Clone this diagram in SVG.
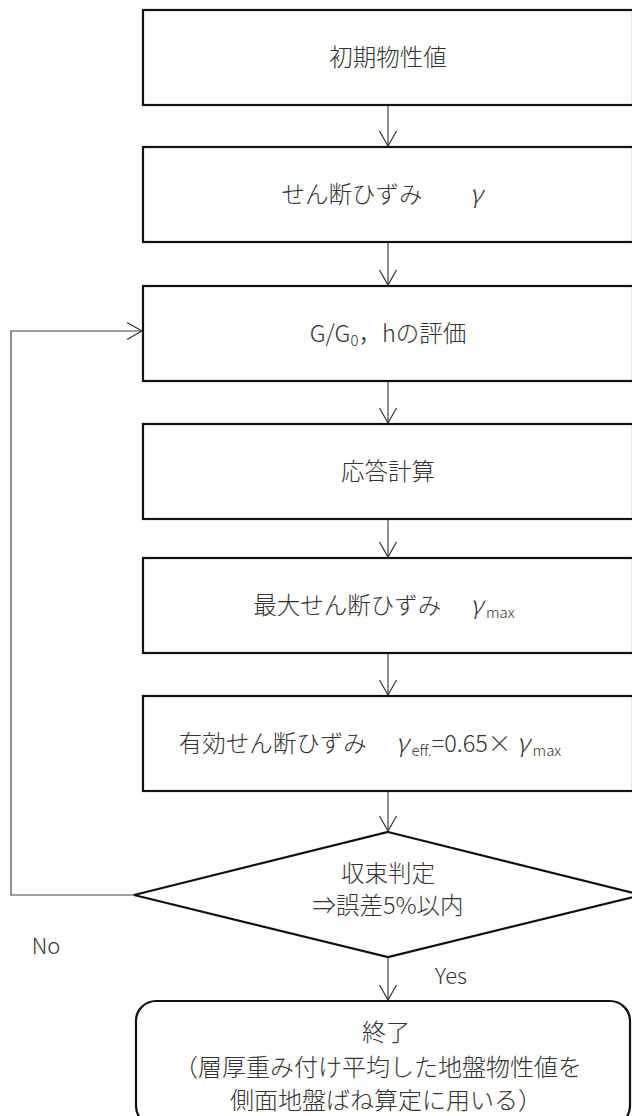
<svg xmlns="http://www.w3.org/2000/svg" width="632" height="1116" viewBox="0 0 632 1116">
<defs>
<style>
.box{fill:#fff;stroke:#111;stroke-width:2.2}
.t{font-family:"Noto Sans CJK JP","Noto Sans",sans-serif;font-size:23.5px;fill:#333;text-anchor:middle;font-weight:300}
.e{font-size:24px}
.sub{font-size:15px}
.g{font-style:italic;font-size:25px}
.c{fill:none;stroke:#444;stroke-width:1.2}
</style>
<marker id="ah" viewBox="0 0 20 20" refX="16" refY="10" markerWidth="20" markerHeight="20" markerUnits="userSpaceOnUse" orient="auto">
<path d="M1,1.5 L16,10 L1,18.5" fill="none" stroke="#333" stroke-width="1.2"/>
</marker>
</defs>
<rect width="632" height="1116" fill="#fff"/>
<g id="connectors">
<line class="c" x1="388" y1="105" x2="388" y2="146" marker-end="url(#ah)"/>
<line class="c" x1="388" y1="242" x2="388" y2="285" marker-end="url(#ah)"/>
<line class="c" x1="388" y1="381" x2="388" y2="423" marker-end="url(#ah)"/>
<line class="c" x1="388" y1="519" x2="388" y2="557" marker-end="url(#ah)"/>
<line class="c" x1="388" y1="653" x2="388" y2="695" marker-end="url(#ah)"/>
<line class="c" x1="388" y1="791" x2="388" y2="831" marker-end="url(#ah)"/>
<line class="c" x1="388" y1="957" x2="388" y2="1000" marker-end="url(#ah)"/>
<polyline class="c" points="134,895 11,895 11,331 142,331" marker-end="url(#ah)"/>
<text class="t" x="46" y="954" style="font-size:22px">No</text>
<text class="t" x="451" y="984" style="font-size:22px">Yes</text>
</g>
<g id="n1"><rect class="box" x="143" y="10" width="490" height="95"/><text class="t" x="388" y="66">初期物性値</text></g>
<g id="n2"><rect class="box" x="143" y="147" width="490" height="95"/><text class="t" x="382" y="203">せん断ひずみ　　<tspan class="g">γ</tspan></text></g>
<g id="n3"><rect class="box" x="143" y="286" width="490" height="95"/><text class="t" x="388" y="342">G/G<tspan class="sub" dy="4">0</tspan><tspan dy="-4">，hの評価</tspan></text></g>
<g id="n4"><rect class="box" x="143" y="424" width="490" height="95"/><text class="t" x="388" y="480">応答計算</text></g>
<g id="n5"><rect class="box" x="143" y="558" width="490" height="95"/><text class="t" x="384" y="614">最大せん断ひずみ　 <tspan class="g">γ</tspan><tspan class="sub" dy="4"> max</tspan></text></g>
<g id="n6"><rect class="box" x="143" y="696" width="490" height="95"/><text class="t" x="370" y="752">有効せん断ひずみ　 <tspan class="g">γ</tspan><tspan class="sub" dy="4"> eff.</tspan><tspan dy="-4">=0.65× </tspan><tspan class="g">γ</tspan><tspan class="sub" dy="4"> max</tspan></text></g>
<g id="n7"><polygon class="box" points="388,832 642,895 388,957 134,895"/><text class="t" x="388" y="882">収束判定</text><text class="t" x="388" y="914">⇒誤差5%以内</text></g>
<g id="n8"><rect class="box" x="136" y="1001" width="494" height="125" rx="20"/><text class="t e" x="386" y="1041">終了</text><text class="t e" x="378" y="1076">（層厚重み付け平均した地盤物性値を</text><text class="t e" x="386" y="1109">側面地盤ばね算定に用いる）</text></g>
</svg>
